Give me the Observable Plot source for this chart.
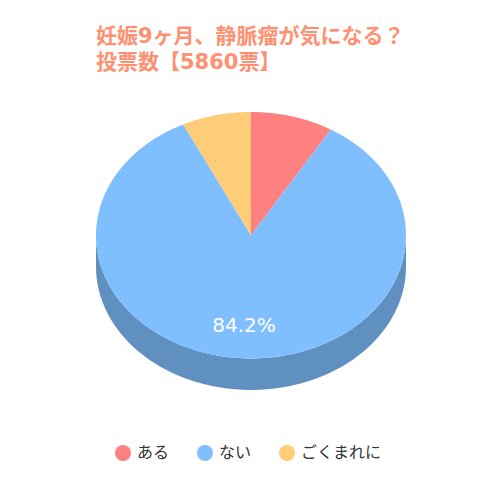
<!DOCTYPE html>
<html><head><meta charset="utf-8">
<script src="https://cdn.jsdelivr.net/npm/d3@7"></script>
<script src="https://cdn.jsdelivr.net/npm/@observablehq/plot@0.6"></script>
<style>
html,body{margin:0;padding:0;background:#fff;width:500px;height:500px;overflow:hidden;font-family:"DejaVu Sans","Noto Sans CJK JP",sans-serif}
#t{position:absolute;left:96px;top:23px;color:#ff9071;font-weight:bold;font-size:21px;line-height:26px;white-space:nowrap}
#c{position:absolute;left:0;top:90px}
#l{position:absolute;left:115px;top:443px;display:flex;color:#333;font-size:16px;line-height:20px;white-space:nowrap}
#l span{display:flex;align-items:center;margin-right:28px}
#l i{display:block;width:16px;height:16px;border-radius:50%;margin-right:6px}
</style></head><body>
<div id="t"></div><div id="c"></div><div id="l"></div>
<script>
const titleLines = ["妊娠9ヶ月、静脈瘤が気になる？", "投票数【5860票】"];
const categories = ["ある", "ない", "ごくまれに"];
const shares = [8.6, 84.2, 7.2];
const colors = ["#ff8080", "#80bfff", "#ffcc77"];
const wallColor = "#6090bf";
const labelled = ["ない"];
const depth = 0.255;

document.getElementById("t").innerHTML = titleLines.join("<br>");
document.getElementById("l").innerHTML = categories.map((c, i) =>
  `<span><i style="background:${colors[i]}"></i>${c}</span>`).join("");

const total = d3.sum(shares);
const arcs = [];
let acc = 0;
categories.forEach((name, i) => {
  const a0 = acc / total * 2 * Math.PI;
  acc += shares[i];
  arcs.push({name, share: shares[i], a0, a1: acc / total * 2 * Math.PI});
});
const on = (a, dy = 0) => ({x: Math.sin(a), y: Math.cos(a) - dy});
const sweep = (a0, a1) => d3.range(0, 121).map(k => a0 + (a1 - a0) * k / 120);
const slices = arcs.flatMap(s => [{x: 0, y: 0}, ...sweep(s.a0, s.a1).map(a => on(a))].map(p => ({...p, name: s.name})));
const low = sweep(Math.PI / 2, 3 * Math.PI / 2);
const wall = [...low.map(a => on(a)), ...low.slice().reverse().map(a => on(a, depth))];
const labels = arcs.filter(s => labelled.includes(s.name)).map(s => ({
  ...on((s.a0 + s.a1) / 2), text: s.share.toFixed(1) + "%"
})).map(p => ({...p, x: p.x * 0.73, y: p.y * 0.73}));

const chart = Plot.plot({
  width: 500, height: 340,
  margin: 0,
  x: {domain: [-1, 1], range: [95.5, 405.5], axis: null},
  y: {domain: [-1, 1], range: [268, 21.5], axis: null},
  color: {domain: categories, range: colors},
  marks: [
    Plot.line(wall, {x: "x", y: "y", fill: wallColor, stroke: "none", curve: "linear"}),
    Plot.line(slices, {x: "x", y: "y", z: "name", fill: "name", stroke: "none", curve: "linear"}),
    Plot.text(labels, {x: "x", y: "y", dx: -2, text: "text", fill: "#fff", fontSize: 20, fontFamily: "DejaVu Sans"})
  ]
});
document.getElementById("c").appendChild(chart);
</script></body></html>
